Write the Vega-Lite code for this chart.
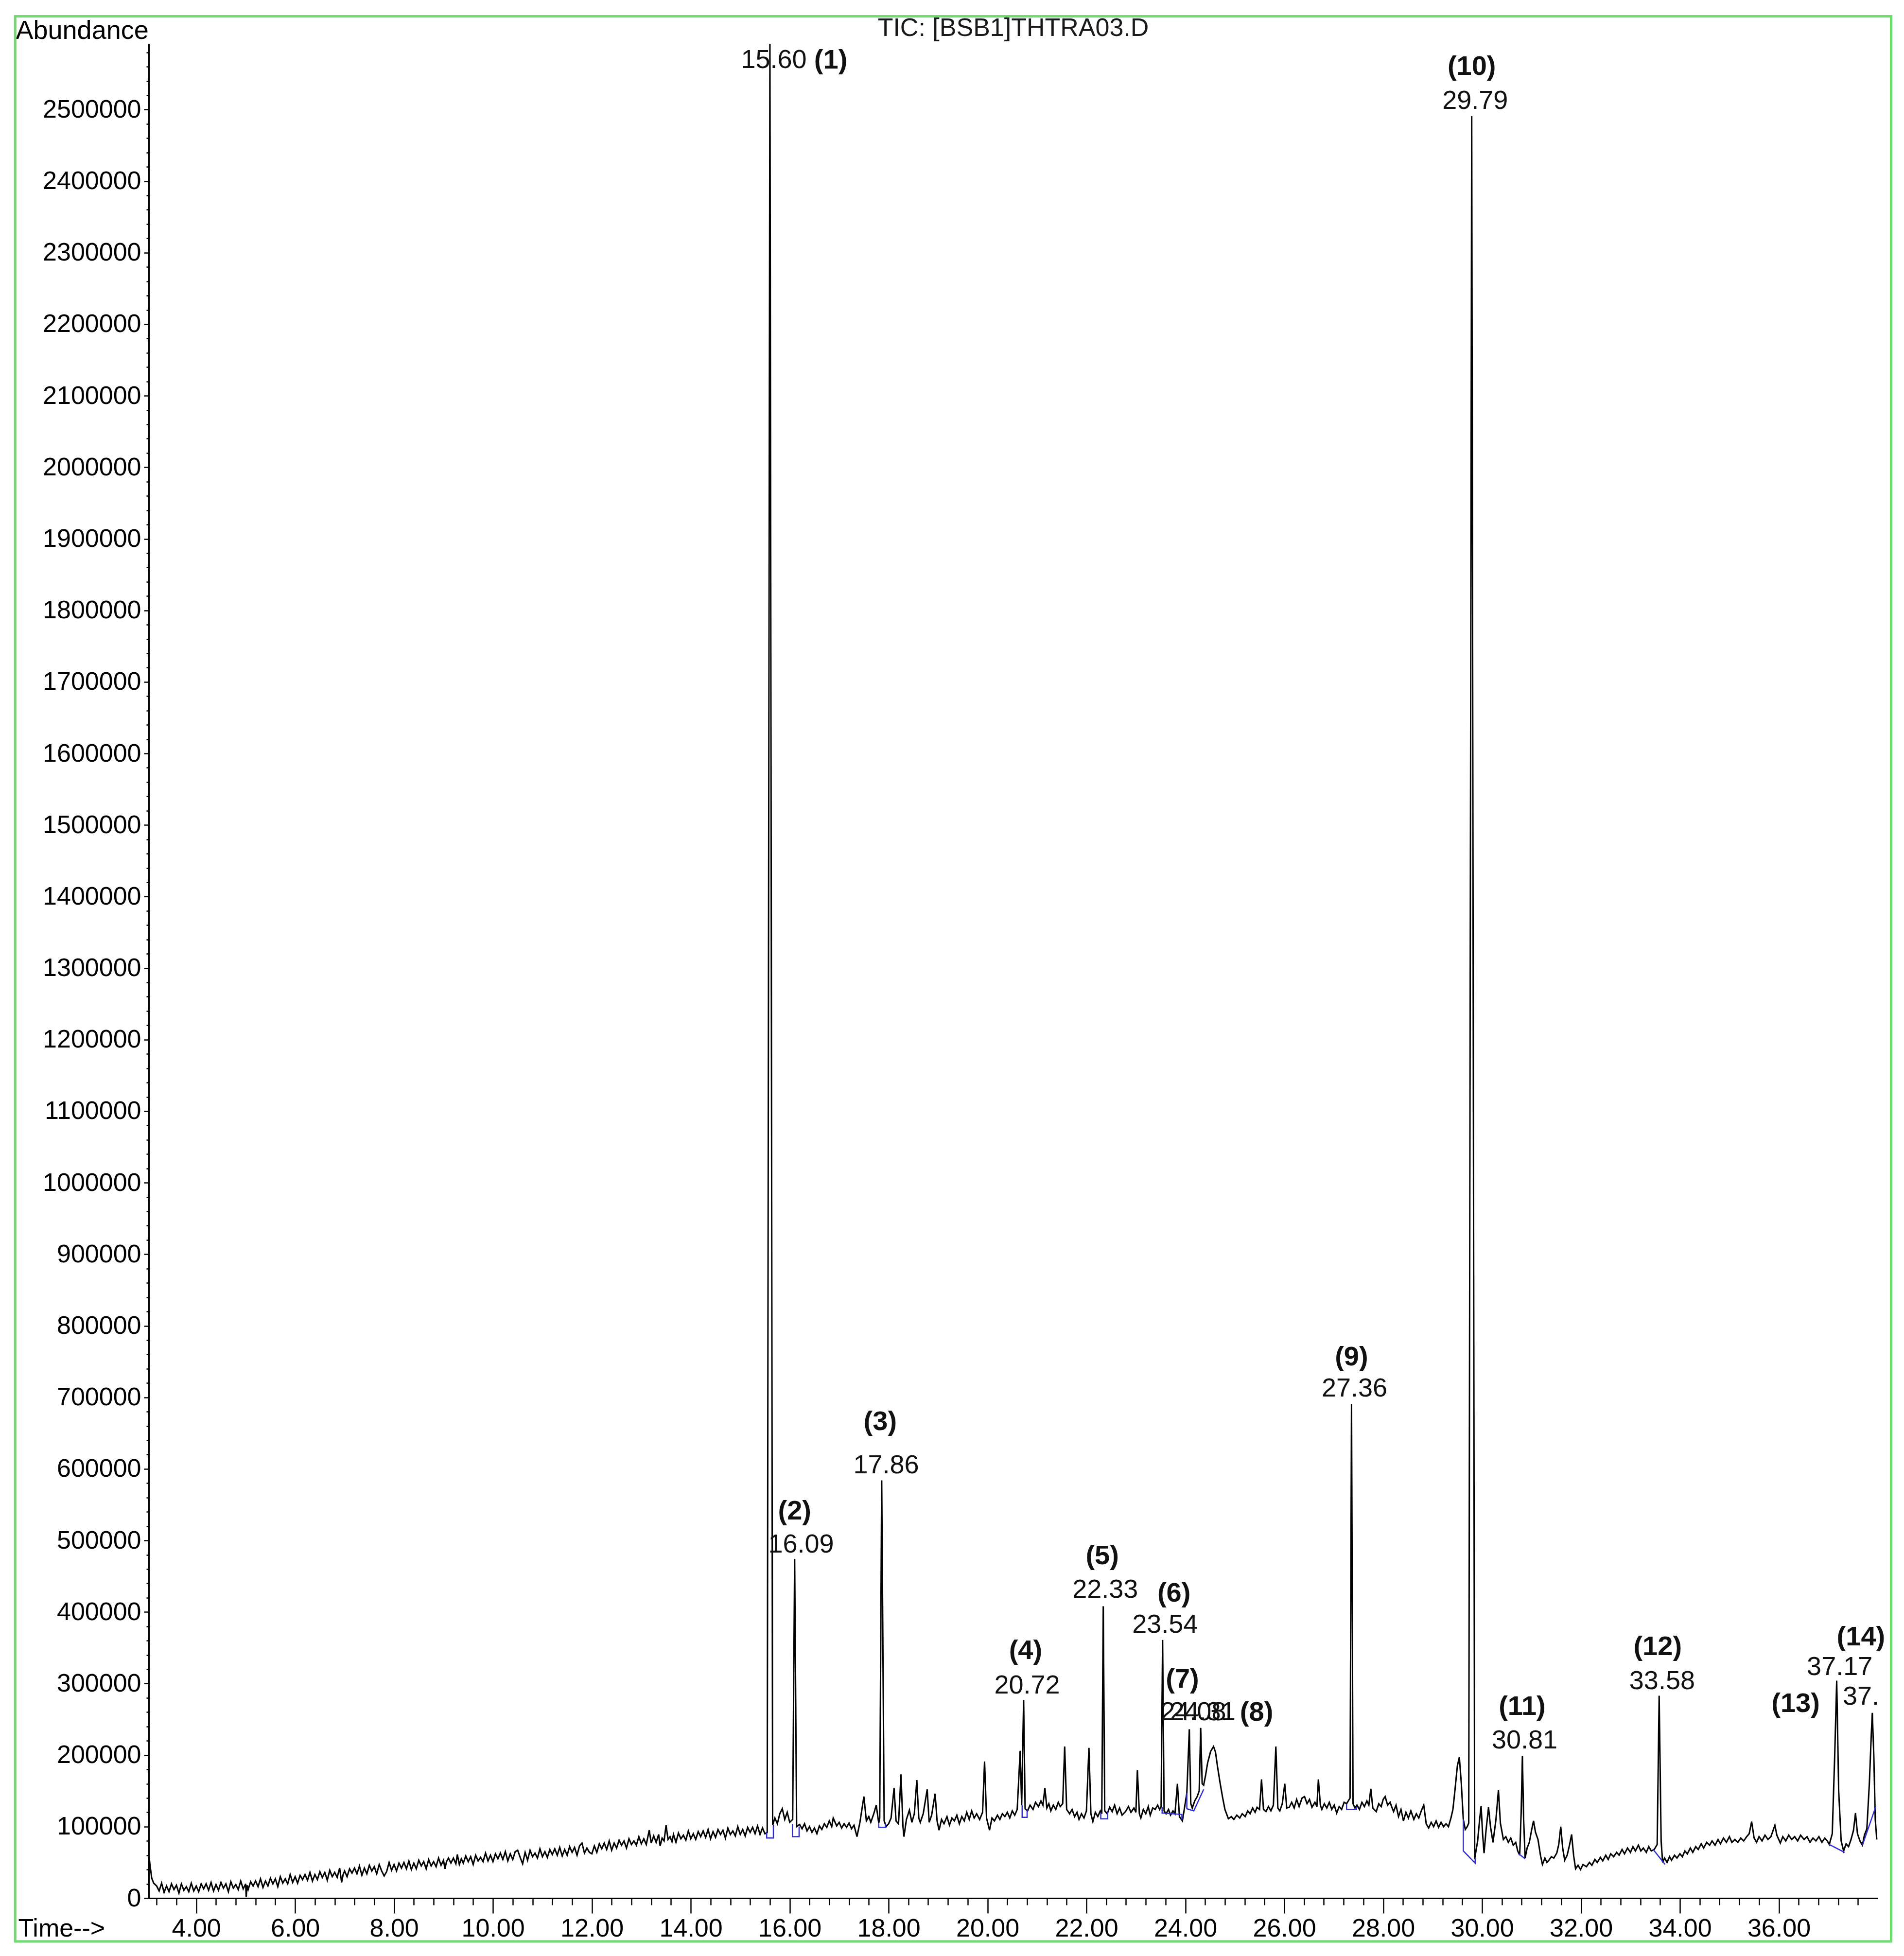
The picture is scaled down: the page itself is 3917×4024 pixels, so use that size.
{
  "$schema": "https://vega.github.io/schema/vega-lite/v6.json",
  "width": 3557,
  "height": 3815,
  "autosize": "none",
  "padding": {"left": 306, "top": 90, "right": 54, "bottom": 119},
  "background": "white",
  "config": {"view": {"stroke": null}, "font": "Liberation Sans"},
  "title": {
    "text": "TIC: [BSB1]THTRA03.D",
    "font": "Liberation Sans",
    "fontSize": 52,
    "fontWeight": "normal",
    "color": "#1a1a1a",
    "anchor": "middle",
    "frame": "group",
    "baseline": "middle",
    "offset": -79
  },
  "datasets": {
    "tic": [
      {"t":3.04,"a":62000},{"t":3.07,"a":44000},{"t":3.10,"a":28000},{"t":3.14,"a":21000},{"t":3.2,"a":17000},{"t":3.25,"a":10000},{"t":3.3,"a":21000},{"t":3.35,"a":8000},{"t":3.4,"a":17000},{"t":3.45,"a":9000},{"t":3.5,"a":20000},{"t":3.55,"a":12000},{"t":3.6,"a":18000},{"t":3.65,"a":7000},{"t":3.7,"a":20000},{"t":3.75,"a":11000},{"t":3.8,"a":16000},{"t":3.85,"a":9000},{"t":3.9,"a":21000},{"t":3.95,"a":10000},
      {"t":4.0,"a":17000},{"t":4.05,"a":9000},{"t":4.1,"a":20000},{"t":4.15,"a":13000},{"t":4.2,"a":20000},{"t":4.25,"a":11000},{"t":4.3,"a":22000},{"t":4.35,"a":10000},{"t":4.4,"a":19000},{"t":4.45,"a":11000},{"t":4.5,"a":22000},{"t":4.55,"a":14000},{"t":4.6,"a":20000},{"t":4.65,"a":9000},{"t":4.7,"a":23000},{"t":4.75,"a":14000},{"t":4.8,"a":19000},{"t":4.85,"a":12000},{"t":4.9,"a":24000},{"t":4.95,"a":13000},
      {"t":5.0,"a":20000},{"t":5.01,"a":2000},{"t":5.03,"a":18000},{"t":5.05,"a":12000},{"t":5.1,"a":23000},{"t":5.15,"a":17000},{"t":5.2,"a":24000},{"t":5.25,"a":16000},{"t":5.3,"a":27000},{"t":5.35,"a":15000},{"t":5.4,"a":24000},{"t":5.45,"a":17000},{"t":5.5,"a":28000},{"t":5.55,"a":20000},{"t":5.6,"a":27000},{"t":5.65,"a":16000},{"t":5.7,"a":30000},{"t":5.75,"a":21000},{"t":5.8,"a":27000},{"t":5.85,"a":20000},{"t":5.9,"a":33000},{"t":5.95,"a":22000},
      {"t":6.0,"a":30000},{"t":6.05,"a":21000},{"t":6.1,"a":32000},{"t":6.15,"a":26000},{"t":6.2,"a":33000},{"t":6.25,"a":25000},{"t":6.3,"a":36000},{"t":6.35,"a":24000},{"t":6.4,"a":33000},{"t":6.45,"a":26000},{"t":6.5,"a":37000},{"t":6.55,"a":29000},{"t":6.6,"a":36000},{"t":6.65,"a":25000},{"t":6.7,"a":39000},{"t":6.75,"a":30000},{"t":6.8,"a":36000},{"t":6.85,"a":29000},{"t":6.9,"a":42000},{"t":6.94,"a":22000},{"t":6.97,"a":33000},
      {"t":7.0,"a":38000},{"t":7.05,"a":30000},{"t":7.1,"a":41000},{"t":7.15,"a":35000},{"t":7.2,"a":42000},{"t":7.25,"a":34000},{"t":7.3,"a":45000},{"t":7.35,"a":32000},{"t":7.4,"a":42000},{"t":7.45,"a":34000},{"t":7.5,"a":46000},{"t":7.55,"a":38000},{"t":7.6,"a":44000},{"t":7.65,"a":34000},{"t":7.7,"a":47000},{"t":7.75,"a":38000},{"t":7.8,"a":31000},{"t":7.85,"a":37000},{"t":7.9,"a":50000},{"t":7.95,"a":39000},
      {"t":8.0,"a":47000},{"t":8.05,"a":38000},{"t":8.1,"a":49000},{"t":8.15,"a":42000},{"t":8.2,"a":50000},{"t":8.25,"a":41000},{"t":8.3,"a":52000},{"t":8.35,"a":40000},{"t":8.4,"a":49000},{"t":8.45,"a":41000},{"t":8.5,"a":53000},{"t":8.55,"a":45000},{"t":8.6,"a":51000},{"t":8.65,"a":41000},{"t":8.7,"a":54000},{"t":8.75,"a":45000},{"t":8.8,"a":51000},{"t":8.85,"a":44000},{"t":8.9,"a":56000},{"t":8.95,"a":46000},
      {"t":9.0,"a":53000},{"t":9.03,"a":41000},{"t":9.06,"a":51000},{"t":9.1,"a":56000},{"t":9.15,"a":49000},{"t":9.2,"a":56000},{"t":9.25,"a":48000},{"t":9.28,"a":61000},{"t":9.32,"a":47000},{"t":9.36,"a":55000},{"t":9.4,"a":49000},{"t":9.45,"a":59000},{"t":9.5,"a":51000},{"t":9.55,"a":58000},{"t":9.6,"a":47000},{"t":9.65,"a":60000},{"t":9.7,"a":52000},{"t":9.75,"a":57000},{"t":9.8,"a":51000},{"t":9.85,"a":63000},{"t":9.9,"a":52000},{"t":9.95,"a":60000},
      {"t":10.0,"a":51000},{"t":10.05,"a":62000},{"t":10.1,"a":55000},{"t":10.15,"a":63000},{"t":10.2,"a":54000},{"t":10.25,"a":65000},{"t":10.3,"a":52000},{"t":10.35,"a":62000},{"t":10.4,"a":54000},{"t":10.45,"a":65000},{"t":10.5,"a":67000},{"t":10.55,"a":57000},{"t":10.6,"a":48000},{"t":10.65,"a":64000},{"t":10.7,"a":53000},{"t":10.75,"a":67000},{"t":10.8,"a":58000},{"t":10.85,"a":63000},{"t":10.9,"a":56000},{"t":10.95,"a":69000},
      {"t":11.0,"a":58000},{"t":11.05,"a":65000},{"t":11.1,"a":57000},{"t":11.15,"a":68000},{"t":11.2,"a":61000},{"t":11.25,"a":69000},{"t":11.3,"a":60000},{"t":11.35,"a":71000},{"t":11.4,"a":59000},{"t":11.45,"a":68000},{"t":11.5,"a":60000},{"t":11.55,"a":72000},{"t":11.6,"a":64000},{"t":11.65,"a":71000},{"t":11.7,"a":60000},{"t":11.75,"a":73000},{"t":11.8,"a":77000},{"t":11.85,"a":63000},{"t":11.9,"a":70000},{"t":11.95,"a":64000},
      {"t":12.0,"a":62000},{"t":12.05,"a":73000},{"t":12.1,"a":64000},{"t":12.15,"a":76000},{"t":12.2,"a":69000},{"t":12.25,"a":77000},{"t":12.3,"a":68000},{"t":12.35,"a":80000},{"t":12.4,"a":67000},{"t":12.45,"a":77000},{"t":12.5,"a":70000},{"t":12.55,"a":81000},{"t":12.6,"a":74000},{"t":12.65,"a":80000},{"t":12.7,"a":70000},{"t":12.75,"a":83000},{"t":12.8,"a":75000},{"t":12.85,"a":80000},{"t":12.9,"a":74000},{"t":12.95,"a":86000},
      {"t":13.0,"a":76000},{"t":13.05,"a":83000},{"t":13.1,"a":75000},{"t":13.16,"a":95000},{"t":13.2,"a":77000},{"t":13.25,"a":87000},{"t":13.3,"a":78000},{"t":13.35,"a":89000},{"t":13.38,"a":73000},{"t":13.42,"a":84000},{"t":13.46,"a":80000},{"t":13.5,"a":102000},{"t":13.54,"a":82000},{"t":13.58,"a":86000},{"t":13.62,"a":79000},{"t":13.65,"a":89000},{"t":13.7,"a":78000},{"t":13.75,"a":91000},{"t":13.8,"a":83000},{"t":13.85,"a":88000},{"t":13.9,"a":81000},{"t":13.95,"a":94000},
      {"t":14.0,"a":83000},{"t":14.05,"a":90000},{"t":14.1,"a":82000},{"t":14.15,"a":93000},{"t":14.2,"a":86000},{"t":14.25,"a":94000},{"t":14.3,"a":85000},{"t":14.35,"a":96000},{"t":14.4,"a":83000},{"t":14.45,"a":93000},{"t":14.5,"a":85000},{"t":14.55,"a":96000},{"t":14.6,"a":89000},{"t":14.65,"a":95000},{"t":14.7,"a":84000},{"t":14.75,"a":98000},{"t":14.8,"a":89000},{"t":14.85,"a":94000},{"t":14.9,"a":87000},{"t":14.95,"a":100000},
      {"t":15.0,"a":89000},{"t":15.05,"a":96000},{"t":15.1,"a":87000},{"t":15.15,"a":99000},{"t":15.2,"a":92000},{"t":15.25,"a":99000},{"t":15.3,"a":90000},{"t":15.35,"a":101000},{"t":15.4,"a":89000},{"t":15.45,"a":98000},{"t":15.5,"a":90000},{"t":15.545,"a":92000},{"t":15.60,"a":2600000},{"t":15.655,"a":102000},
      {"t":15.7,"a":112000},{"t":15.75,"a":104000},{"t":15.8,"a":118000},{"t":15.85,"a":125000},{"t":15.9,"a":110000},{"t":15.95,"a":120000},{"t":16.0,"a":106000},{"t":16.06,"a":110000},{"t":16.10,"a":474000},{"t":16.14,"a":100000},
      {"t":16.2,"a":103000},{"t":16.25,"a":97000},{"t":16.3,"a":104000},{"t":16.35,"a":94000},{"t":16.4,"a":100000},{"t":16.45,"a":92000},{"t":16.5,"a":98000},{"t":16.55,"a":90000},{"t":16.6,"a":101000},{"t":16.65,"a":96000},{"t":16.7,"a":104000},{"t":16.75,"a":99000},{"t":16.8,"a":108000},{"t":16.85,"a":100000},{"t":16.88,"a":112000},{"t":16.95,"a":101000},
      {"t":17.0,"a":106000},{"t":17.05,"a":98000},{"t":17.1,"a":104000},{"t":17.15,"a":99000},{"t":17.2,"a":105000},{"t":17.25,"a":97000},{"t":17.3,"a":102000},{"t":17.36,"a":86000},{"t":17.42,"a":106000},{"t":17.5,"a":142000},{"t":17.55,"a":108000},{"t":17.6,"a":114000},{"t":17.64,"a":106000},{"t":17.7,"a":118000},{"t":17.75,"a":130000},{"t":17.8,"a":105000},{"t":17.82,"a":112000},{"t":17.86,"a":584000},{"t":17.91,"a":108000},{"t":17.95,"a":100000},
      {"t":18.0,"a":104000},{"t":18.05,"a":112000},{"t":18.11,"a":154000},{"t":18.15,"a":108000},{"t":18.2,"a":104000},{"t":18.25,"a":173000},{"t":18.29,"a":100000},{"t":18.31,"a":86000},{"t":18.36,"a":110000},{"t":18.42,"a":123000},{"t":18.47,"a":106000},{"t":18.52,"a":118000},{"t":18.57,"a":165000},{"t":18.61,"a":112000},{"t":18.64,"a":106000},{"t":18.7,"a":118000},{"t":18.78,"a":152000},{"t":18.82,"a":106000},{"t":18.87,"a":116000},{"t":18.94,"a":146000},{"t":18.98,"a":108000},
      {"t":19.02,"a":95000},{"t":19.07,"a":110000},{"t":19.12,"a":104000},{"t":19.18,"a":114000},{"t":19.23,"a":102000},{"t":19.28,"a":112000},{"t":19.33,"a":108000},{"t":19.38,"a":116000},{"t":19.43,"a":104000},{"t":19.48,"a":114000},{"t":19.53,"a":108000},{"t":19.58,"a":120000},{"t":19.63,"a":110000},{"t":19.68,"a":122000},{"t":19.73,"a":112000},{"t":19.78,"a":118000},{"t":19.84,"a":110000},{"t":19.9,"a":120000},{"t":19.94,"a":191000},{"t":19.98,"a":112000},
      {"t":20.04,"a":95000},{"t":20.09,"a":112000},{"t":20.14,"a":108000},{"t":20.2,"a":116000},{"t":20.25,"a":110000},{"t":20.3,"a":118000},{"t":20.35,"a":114000},{"t":20.4,"a":120000},{"t":20.45,"a":112000},{"t":20.5,"a":122000},{"t":20.55,"a":116000},{"t":20.6,"a":124000},{"t":20.66,"a":206000},{"t":20.69,"a":130000},{"t":20.73,"a":277000},{"t":20.76,"a":125000},{"t":20.81,"a":122000},{"t":20.86,"a":130000},{"t":20.92,"a":124000},{"t":20.97,"a":134000},
      {"t":21.03,"a":128000},{"t":21.08,"a":136000},{"t":21.12,"a":130000},{"t":21.16,"a":154000},{"t":21.2,"a":126000},{"t":21.24,"a":132000},{"t":21.28,"a":122000},{"t":21.33,"a":130000},{"t":21.38,"a":124000},{"t":21.43,"a":134000},{"t":21.47,"a":128000},{"t":21.52,"a":132000},{"t":21.56,"a":212000},{"t":21.6,"a":124000},{"t":21.66,"a":118000},{"t":21.71,"a":124000},{"t":21.76,"a":114000},{"t":21.81,"a":120000},{"t":21.85,"a":110000},{"t":21.9,"a":118000},{"t":21.95,"a":112000},
      {"t":22.0,"a":122000},{"t":22.05,"a":210000},{"t":22.09,"a":118000},{"t":22.13,"a":107000},{"t":22.18,"a":120000},{"t":22.23,"a":114000},{"t":22.28,"a":122000},{"t":22.31,"a":118000},{"t":22.34,"a":408000},{"t":22.37,"a":122000},{"t":22.42,"a":118000},{"t":22.47,"a":127000},{"t":22.52,"a":121000},{"t":22.57,"a":130000},{"t":22.62,"a":118000},{"t":22.67,"a":126000},{"t":22.72,"a":116000},{"t":22.79,"a":121000},{"t":22.85,"a":128000},{"t":22.9,"a":120000},{"t":22.96,"a":126000},
      {"t":23.0,"a":120000},{"t":23.03,"a":179000},{"t":23.07,"a":118000},{"t":23.1,"a":112000},{"t":23.15,"a":124000},{"t":23.2,"a":118000},{"t":23.25,"a":128000},{"t":23.29,"a":116000},{"t":23.34,"a":126000},{"t":23.39,"a":124000},{"t":23.44,"a":130000},{"t":23.48,"a":124000},{"t":23.51,"a":128000},{"t":23.54,"a":361000},{"t":23.57,"a":122000},{"t":23.61,"a":118000},{"t":23.66,"a":124000},{"t":23.7,"a":116000},{"t":23.75,"a":122000},{"t":23.79,"a":118000},{"t":23.84,"a":160000},{"t":23.88,"a":114000},{"t":23.94,"a":108000},{"t":23.98,"a":125000},
      {"t":24.03,"a":147000},{"t":24.08,"a":236000},{"t":24.11,"a":132000},{"t":24.14,"a":126000},{"t":24.19,"a":136000},{"t":24.24,"a":142000},{"t":24.28,"a":150000},{"t":24.31,"a":238000},{"t":24.34,"a":160000},{"t":24.37,"a":158000},{"t":24.41,"a":172000},{"t":24.45,"a":189000},{"t":24.51,"a":205000},{"t":24.57,"a":212000},{"t":24.61,"a":204000},{"t":24.65,"a":184000},{"t":24.7,"a":162000},{"t":24.75,"a":142000},{"t":24.8,"a":124000},{"t":24.87,"a":111000},{"t":24.93,"a":114000},{"t":24.98,"a":110000},
      {"t":25.04,"a":116000},{"t":25.1,"a":112000},{"t":25.15,"a":118000},{"t":25.21,"a":114000},{"t":25.26,"a":122000},{"t":25.31,"a":118000},{"t":25.36,"a":126000},{"t":25.41,"a":120000},{"t":25.45,"a":127000},{"t":25.5,"a":124000},{"t":25.54,"a":166000},{"t":25.58,"a":124000},{"t":25.63,"a":121000},{"t":25.68,"a":128000},{"t":25.73,"a":122000},{"t":25.78,"a":130000},{"t":25.83,"a":212000},{"t":25.87,"a":126000},{"t":25.91,"a":122000},{"t":25.96,"a":132000},
      {"t":26.01,"a":160000},{"t":26.05,"a":126000},{"t":26.1,"a":127000},{"t":26.15,"a":134000},{"t":26.2,"a":126000},{"t":26.25,"a":138000},{"t":26.3,"a":128000},{"t":26.36,"a":140000},{"t":26.41,"a":142000},{"t":26.46,"a":132000},{"t":26.51,"a":138000},{"t":26.56,"a":127000},{"t":26.62,"a":134000},{"t":26.66,"a":128000},{"t":26.69,"a":166000},{"t":26.73,"a":130000},{"t":26.76,"a":124000},{"t":26.81,"a":132000},{"t":26.86,"a":126000},{"t":26.91,"a":134000},{"t":26.96,"a":124000},
      {"t":27.01,"a":130000},{"t":27.06,"a":119000},{"t":27.11,"a":128000},{"t":27.16,"a":124000},{"t":27.21,"a":134000},{"t":27.26,"a":132000},{"t":27.33,"a":140000},{"t":27.36,"a":691000},{"t":27.39,"a":132000},{"t":27.43,"a":126000},{"t":27.47,"a":130000},{"t":27.52,"a":124000},{"t":27.57,"a":134000},{"t":27.62,"a":128000},{"t":27.67,"a":136000},{"t":27.71,"a":130000},{"t":27.75,"a":153000},{"t":27.79,"a":126000},{"t":27.86,"a":121000},{"t":27.91,"a":132000},{"t":27.96,"a":128000},
      {"t":28.0,"a":138000},{"t":28.04,"a":142000},{"t":28.09,"a":130000},{"t":28.14,"a":134000},{"t":28.18,"a":126000},{"t":28.21,"a":121000},{"t":28.26,"a":130000},{"t":28.31,"a":114000},{"t":28.36,"a":124000},{"t":28.41,"a":108000},{"t":28.46,"a":120000},{"t":28.51,"a":112000},{"t":28.56,"a":122000},{"t":28.62,"a":110000},{"t":28.67,"a":118000},{"t":28.72,"a":112000},{"t":28.77,"a":122000},{"t":28.82,"a":130000},{"t":28.87,"a":104000},{"t":28.92,"a":98000},{"t":28.97,"a":106000},
      {"t":29.02,"a":100000},{"t":29.07,"a":108000},{"t":29.12,"a":99000},{"t":29.17,"a":106000},{"t":29.22,"a":100000},{"t":29.27,"a":104000},{"t":29.32,"a":100000},{"t":29.37,"a":112000},{"t":29.41,"a":124000},{"t":29.45,"a":150000},{"t":29.5,"a":185000},{"t":29.54,"a":197000},{"t":29.58,"a":160000},{"t":29.62,"a":110000},{"t":29.66,"a":96000},{"t":29.7,"a":100000},{"t":29.73,"a":105000},{"t":29.79,"a":2491000},{"t":29.85,"a":55000},
      {"t":29.91,"a":80000},{"t":29.95,"a":110000},{"t":29.98,"a":129000},{"t":30.01,"a":90000},{"t":30.04,"a":63000},{"t":30.08,"a":95000},{"t":30.13,"a":127000},{"t":30.17,"a":100000},{"t":30.22,"a":78000},{"t":30.28,"a":110000},{"t":30.33,"a":151000},{"t":30.37,"a":105000},{"t":30.43,"a":82000},{"t":30.48,"a":86000},{"t":30.53,"a":78000},{"t":30.58,"a":84000},{"t":30.63,"a":74000},{"t":30.68,"a":78000},{"t":30.72,"a":66000},{"t":30.76,"a":60000},{"t":30.79,"a":120000},{"t":30.815,"a":199000},{"t":30.84,"a":110000},{"t":30.87,"a":56000},{"t":30.91,"a":70000},{"t":30.955,"a":78000},
      {"t":31.0,"a":95000},{"t":31.04,"a":108000},{"t":31.08,"a":92000},{"t":31.13,"a":82000},{"t":31.18,"a":60000},{"t":31.22,"a":47000},{"t":31.27,"a":56000},{"t":31.31,"a":50000},{"t":31.35,"a":53000},{"t":31.4,"a":58000},{"t":31.45,"a":56000},{"t":31.51,"a":63000},{"t":31.55,"a":75000},{"t":31.59,"a":100000},{"t":31.63,"a":70000},{"t":31.67,"a":53000},{"t":31.72,"a":60000},{"t":31.77,"a":75000},{"t":31.81,"a":89000},{"t":31.85,"a":60000},{"t":31.89,"a":41000},{"t":31.94,"a":46000},{"t":31.99,"a":40000},
      {"t":32.04,"a":47000},{"t":32.11,"a":44000},{"t":32.17,"a":50000},{"t":32.22,"a":46000},{"t":32.28,"a":54000},{"t":32.33,"a":50000},{"t":32.39,"a":57000},{"t":32.44,"a":52000},{"t":32.5,"a":60000},{"t":32.55,"a":54000},{"t":32.6,"a":62000},{"t":32.66,"a":58000},{"t":32.72,"a":64000},{"t":32.77,"a":60000},{"t":32.83,"a":68000},{"t":32.88,"a":62000},{"t":32.94,"a":70000},
      {"t":33.0,"a":64000},{"t":33.05,"a":72000},{"t":33.1,"a":66000},{"t":33.16,"a":74000},{"t":33.21,"a":66000},{"t":33.26,"a":70000},{"t":33.32,"a":64000},{"t":33.37,"a":72000},{"t":33.42,"a":66000},{"t":33.48,"a":68000},{"t":33.54,"a":75000},{"t":33.58,"a":283000},{"t":33.62,"a":80000},{"t":33.65,"a":50000},{"t":33.69,"a":56000},{"t":33.74,"a":50000},{"t":33.79,"a":58000},{"t":33.83,"a":53000},{"t":33.89,"a":60000},{"t":33.94,"a":56000},
      {"t":34.0,"a":62000},{"t":34.05,"a":58000},{"t":34.1,"a":66000},{"t":34.15,"a":62000},{"t":34.21,"a":70000},{"t":34.26,"a":64000},{"t":34.32,"a":72000},{"t":34.37,"a":68000},{"t":34.43,"a":76000},{"t":34.48,"a":70000},{"t":34.54,"a":78000},{"t":34.6,"a":74000},{"t":34.65,"a":80000},{"t":34.71,"a":74000},{"t":34.77,"a":82000},{"t":34.82,"a":76000},{"t":34.88,"a":84000},{"t":34.94,"a":78000},
      {"t":35.0,"a":86000},{"t":35.05,"a":78000},{"t":35.11,"a":82000},{"t":35.17,"a":78000},{"t":35.23,"a":84000},{"t":35.29,"a":80000},{"t":35.35,"a":86000},{"t":35.4,"a":90000},{"t":35.45,"a":107000},{"t":35.5,"a":84000},{"t":35.55,"a":78000},{"t":35.6,"a":86000},{"t":35.66,"a":80000},{"t":35.72,"a":88000},{"t":35.78,"a":82000},{"t":35.84,"a":86000},{"t":35.88,"a":94000},{"t":35.92,"a":102000},{"t":35.96,"a":88000},
      {"t":36.03,"a":77000},{"t":36.08,"a":86000},{"t":36.14,"a":80000},{"t":36.2,"a":88000},{"t":36.26,"a":82000},{"t":36.32,"a":86000},{"t":36.38,"a":80000},{"t":36.44,"a":88000},{"t":36.51,"a":82000},{"t":36.57,"a":86000},{"t":36.63,"a":78000},{"t":36.69,"a":84000},{"t":36.75,"a":80000},{"t":36.81,"a":86000},{"t":36.87,"a":78000},{"t":36.93,"a":84000},{"t":36.98,"a":80000},
      {"t":37.02,"a":75000},{"t":37.08,"a":90000},{"t":37.13,"a":200000},{"t":37.17,"a":304000},{"t":37.21,"a":150000},{"t":37.26,"a":80000},{"t":37.31,"a":66000},{"t":37.36,"a":76000},{"t":37.41,"a":72000},{"t":37.46,"a":82000},{"t":37.51,"a":95000},{"t":37.55,"a":119000},{"t":37.59,"a":90000},{"t":37.64,"a":80000},{"t":37.69,"a":74000},{"t":37.73,"a":88000},{"t":37.78,"a":97000},{"t":37.83,"a":160000},{"t":37.87,"a":230000},{"t":37.89,"a":259000},{"t":37.92,"a":200000},{"t":37.95,"a":110000},{"t":37.98,"a":82000}
    ],
    "baselines": [
      {"seg":1,"i":1,"t":15.535,"a":92000},{"seg":1,"i":2,"t":15.535,"a":84000},{"seg":1,"i":3,"t":15.67,"a":84000},{"seg":1,"i":4,"t":15.67,"a":102000},
      {"seg":2,"i":1,"t":16.055,"a":104000},{"seg":2,"i":2,"t":16.055,"a":86000},{"seg":2,"i":3,"t":16.19,"a":86000},{"seg":2,"i":4,"t":16.19,"a":100000},
      {"seg":3,"i":1,"t":17.80,"a":105000},{"seg":3,"i":2,"t":17.80,"a":99000},{"seg":3,"i":3,"t":17.94,"a":99000},{"seg":3,"i":4,"t":17.94,"a":104000},
      {"seg":4,"i":1,"t":20.70,"a":130000},{"seg":4,"i":2,"t":20.70,"a":113000},{"seg":4,"i":3,"t":20.80,"a":113000},{"seg":4,"i":4,"t":20.80,"a":124000},
      {"seg":5,"i":1,"t":22.29,"a":120000},{"seg":5,"i":2,"t":22.29,"a":111000},{"seg":5,"i":3,"t":22.43,"a":111000},{"seg":5,"i":4,"t":22.43,"a":122000},
      {"seg":6,"i":1,"t":23.53,"a":127000},{"seg":6,"i":2,"t":23.53,"a":119000},{"seg":6,"i":3,"t":23.93,"a":117000},{"seg":6,"i":4,"t":23.93,"a":110000},
      {"seg":7,"i":1,"t":24.03,"a":147000},{"seg":7,"i":2,"t":24.03,"a":125000},{"seg":7,"i":3,"t":24.17,"a":122000},{"seg":7,"i":4,"t":24.37,"a":152000},
      {"seg":8,"i":1,"t":27.26,"a":132000},{"seg":8,"i":2,"t":27.26,"a":124000},{"seg":8,"i":3,"t":27.46,"a":124000},{"seg":8,"i":4,"t":27.46,"a":128000},
      {"seg":9,"i":1,"t":29.62,"a":110000},{"seg":9,"i":2,"t":29.62,"a":66000},{"seg":9,"i":3,"t":29.86,"a":49000},{"seg":9,"i":4,"t":29.86,"a":56000},
      {"seg":10,"i":1,"t":30.74,"a":62000},{"seg":10,"i":2,"t":30.87,"a":55000},
      {"seg":11,"i":1,"t":33.46,"a":68000},{"seg":11,"i":2,"t":33.70,"a":47000},
      {"seg":12,"i":1,"t":37.02,"a":75000},{"seg":12,"i":2,"t":37.33,"a":64000},
      {"seg":13,"i":1,"t":37.69,"a":74000},{"seg":13,"i":2,"t":37.96,"a":128000}
    ],
    "rt": [
      {"t":15.68,"a":2569000,"lab":"15.60"},
      {"t":16.23,"a":494000,"lab":"16.09"},
      {"t":17.95,"a":605000,"lab":"17.86"},
      {"t":20.80,"a":297000,"lab":"20.72"},
      {"t":22.38,"a":431000,"lab":"22.33"},
      {"t":23.59,"a":382000,"lab":"23.54"},
      {"t":24.16,"a":259500,"lab":"24.08"},
      {"t":24.35,"a":259500,"lab":"24.31"},
      {"t":27.42,"a":712000,"lab":"27.36"},
      {"t":29.86,"a":2512000,"lab":"29.79"},
      {"t":30.86,"a":220000,"lab":"30.81"},
      {"t":33.64,"a":303000,"lab":"33.58"},
      {"t":37.23,"a":323000,"lab":"37.17"},
      {"t":37.66,"a":281000,"lab":"37."}
    ],
    "ids": [
      {"t":16.83,"a":2569000,"lab":"(1)"},
      {"t":16.10,"a":541000,"lab":"(2)"},
      {"t":17.83,"a":666000,"lab":"(3)"},
      {"t":20.77,"a":346000,"lab":"(4)"},
      {"t":22.32,"a":478000,"lab":"(5)"},
      {"t":23.77,"a":426000,"lab":"(6)"},
      {"t":23.94,"a":306000,"lab":"(7)"},
      {"t":25.44,"a":259500,"lab":"(8)"},
      {"t":27.36,"a":756000,"lab":"(9)"},
      {"t":29.79,"a":2560000,"lab":"(10)"},
      {"t":30.81,"a":268000,"lab":"(11)"},
      {"t":33.55,"a":351000,"lab":"(12)"},
      {"t":36.34,"a":272000,"lab":"(13)"},
      {"t":37.66,"a":365000,"lab":"(14)"}
    ]
  },
  "layer": [
    {
      "data": {"name": "tic"},
      "mark": {"type": "line", "color": "black", "strokeWidth": 3, "clip": true},
      "encoding": {
        "x": {
          "field": "t",
          "type": "quantitative",
          "scale": {"domain": [3.04, 38.0], "nice": false, "zero": false},
          "axis": {
            "title": "Time-->",
            "titleFont": "Liberation Sans",
            "titleFontSize": 52,
            "titleFontWeight": "normal",
            "titleColor": "black",
            "titleAngle": 0,
            "titleAlign": "left",
            "titleBaseline": "middle",
            "titleX": -269,
            "titleY": 62,
            "values": [3.2,3.6,4,4.4,4.8,5.2,5.6,6,6.4,6.8,7.2,7.6,8,8.4,8.8,9.2,9.6,10,10.4,10.8,11.2,11.6,12,12.4,12.8,13.2,13.6,14,14.4,14.8,15.2,15.6,16,16.4,16.8,17.2,17.6,18,18.4,18.8,19.2,19.6,20,20.4,20.8,21.2,21.6,22,22.4,22.8,23.2,23.6,24,24.4,24.8,25.2,25.6,26,26.4,26.8,27.2,27.6,28,28.4,28.8,29.2,29.6,30,30.4,30.8,31.2,31.6,32,32.4,32.8,33.2,33.6,34,34.4,34.8,35.2,35.6,36,36.4,36.8,37.2,37.6],
            "labelExpr": "abs(datum.value / 2 - round(datum.value / 2)) < 0.01 ? format(datum.value, '.2f') : ''",
            "labelFont": "Liberation Sans",
            "labelFontSize": 52,
            "labelColor": "black",
            "labelOverlap": false,
            "labelFlush": false,
            "labelLimit": 0,
            "labelBaseline": "middle",
            "labelPadding": 31,
            "tickSize": {"condition": {"test": "abs(datum.value / 2 - round(datum.value / 2)) < 0.01", "value": 31}, "value": 14},
            "tickColor": "black",
            "tickWidth": 2.5,
            "domainColor": "black",
            "domainWidth": 3,
            "grid": false
          }
        },
        "y": {
          "field": "a",
          "type": "quantitative",
          "scale": {"domain": [0, 2592000], "nice": false},
          "axis": {
            "title": "Abundance",
            "titleFont": "Liberation Sans",
            "titleFontSize": 54,
            "titleFontWeight": "normal",
            "titleColor": "black",
            "titleAngle": 0,
            "titleAlign": "left",
            "titleBaseline": "middle",
            "titleX": -274,
            "titleY": -27,
            "titleLimit": 0,
            "tickCount": 130,
            "labelExpr": "datum.value % 100000 === 0 ? format(datum.value, 'd') : ''",
            "labelFont": "Liberation Sans",
            "labelFontSize": 52,
            "labelColor": "black",
            "labelOverlap": false,
            "labelFlush": false,
            "labelLimit": 0,
            "labelPadding": 6,
            "tickSize": {"condition": {"test": "datum.value % 100000 === 0", "value": 10}, "value": 5},
            "tickColor": "black",
            "tickWidth": 2.5,
            "domainColor": "black",
            "domainWidth": 3,
            "grid": false
          }
        }
      }
    },
    {
      "data": {"name": "baselines"},
      "mark": {"type": "line", "color": "#2b2bd0", "strokeWidth": 2.5, "clip": true},
      "encoding": {
        "x": {"field": "t", "type": "quantitative"},
        "y": {"field": "a", "type": "quantitative"},
        "detail": {"field": "seg"},
        "order": {"field": "i"}
      }
    },
    {
      "data": {"name": "rt"},
      "mark": {"type": "text", "font": "Liberation Sans", "fontSize": 54, "color": "#111111", "align": "center", "baseline": "middle", "clip": false},
      "encoding": {
        "x": {"field": "t", "type": "quantitative"},
        "y": {"field": "a", "type": "quantitative"},
        "text": {"field": "lab"}
      }
    },
    {
      "data": {"name": "ids"},
      "mark": {"type": "text", "font": "Liberation Sans", "fontSize": 56, "fontWeight": "bold", "color": "#111111", "align": "center", "baseline": "middle", "clip": false},
      "encoding": {
        "x": {"field": "t", "type": "quantitative"},
        "y": {"field": "a", "type": "quantitative"},
        "text": {"field": "lab"}
      }
    },
    {
      "data": {"values": [{}]},
      "mark": {"type": "rect", "fillOpacity": 0, "stroke": "#6fdc6f", "strokeWidth": 5, "clip": false},
      "encoding": {
        "x": {"datum": 0.34, "type": "quantitative"},
        "x2": {"datum": 38.27},
        "y": {"datum": -60500, "type": "quantitative"},
        "y2": {"datum": 2630400}
      }
    }
  ]
}
